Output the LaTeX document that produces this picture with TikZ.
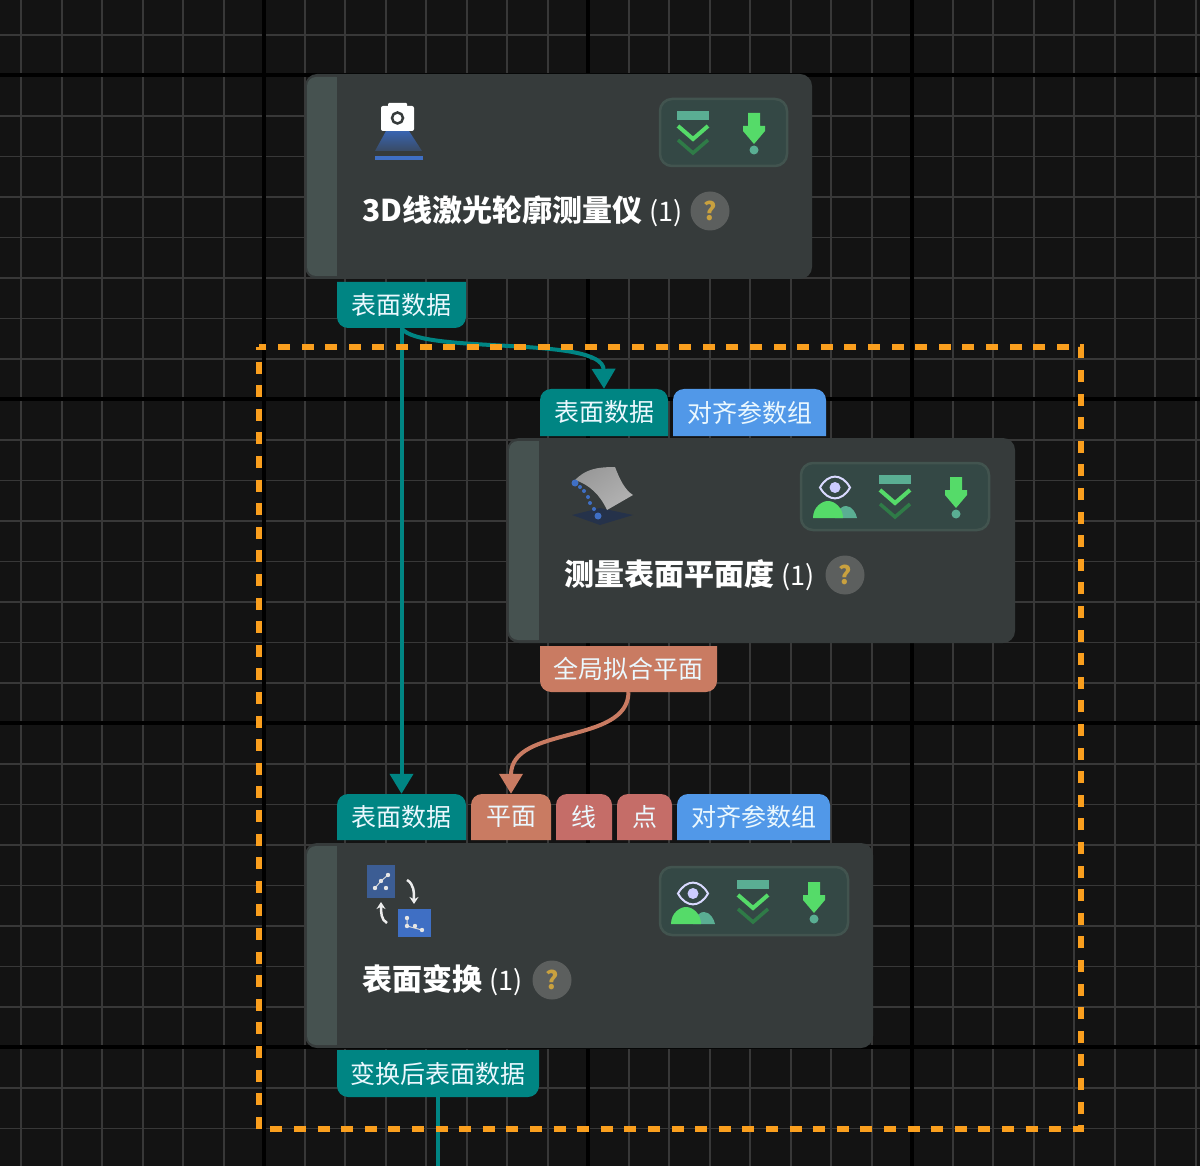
\documentclass[tikz,border=0pt]{standalone}
\usepackage{xcolor}
\usepackage{fontspec}
\usepackage{tikz}
\usetikzlibrary{arrows.meta}
\setmainfont{Noto Sans CJK SC}
\definecolor{canvasbg}{HTML}{131313}
\definecolor{gridgray}{HTML}{383838}
\definecolor{cardgray}{HTML}{363B3B}
\definecolor{cardbar}{HTML}{465250}
\definecolor{toolfill}{HTML}{344845}
\definecolor{tooledge}{HTML}{42544F}
\definecolor{portteal}{HTML}{008583}
\definecolor{portblue}{HTML}{5198E8}
\definecolor{portcoral}{HTML}{C97B62}
\definecolor{portrose}{HTML}{C56D68}
\definecolor{selorange}{HTML}{FA9F1E}
\definecolor{icongreen}{HTML}{55DB69}
\definecolor{iconteal}{HTML}{5AAE93}
\definecolor{icondark}{HTML}{2F7B47}
\definecolor{helpgray}{HTML}{5C5F5E}
\definecolor{helpgold}{HTML}{C9A13F}
\definecolor{iconblue}{HTML}{3F6FC4}
\definecolor{iconbase}{HTML}{25324A}
\tikzset{
  titletext/.style={anchor=west,inner sep=0pt,text=white,font=\fontsize{30}{32}\selectfont\bfseries},
  porttext/.style={inner sep=0pt,text=white!92!cyan,font=\fontsize{25}{28}\selectfont},
  helpdot/.style={circle,fill=helpgray,inner sep=0pt,minimum size=39pt,text=helpgold,font=\fontsize{25}{28}\selectfont\bfseries},
  wire/.style={line width=4pt,-{Triangle[length=20pt,width=23pt]}},
  cardbox/.style={fill=cardgray,rounded corners=12pt},
  toolbox/.style={fill=toolfill,draw=tooledge,line width=2.5pt,rounded corners=12pt},
}
% ports: name, x0, x1, y0, y1, colour, text
\newcommand{\portin}[7]{
  \fill[#6] (#2,#5) [rounded corners=11pt] -- (#2,#4) -- (#3,#4) [sharp corners] -- (#3,#5) -- cycle;
  \node[porttext,minimum width={(#3-#2)*1pt},minimum height={(#5-#4)*1pt}] (#1) at ({(#2+#3)/2},{(#4+#5)/2}) {#7};
}
\newcommand{\portout}[7]{
  \fill[#6] (#2,#4) [rounded corners=11pt] -- (#2,#5) -- (#3,#5) [sharp corners] -- (#3,#4) -- cycle;
  \node[porttext,minimum width={(#3-#2)*1pt},minimum height={(#5-#4)*1pt}] (#1) at ({(#2+#3)/2},{(#4+#5)/2}) {#7};
}
% card with its grey left bar: x0, x1, y0
\newcommand{\cardshape}[3]{
  \fill[cardbox] (#1,#3) rectangle (#2,#3+205);
  \fill[cardbar,rounded corners=9pt] (#1+2,#3+3) rectangle (#1+40,#3+202);
  \fill[cardgray] (#1+32,#3) rectangle (#1+44,#3+205);
}
% toolbar icons: centre x, top y
\newcommand{\iconchev}[2]{
  \begin{scope}[shift={(#1,#2)}]
    \fill[iconteal] (-16,0) rectangle (16,9);
    \draw[icondark,line width=3.5pt] (-15,29) -- (0,42) -- (15,29);
    \draw[icongreen,line width=4pt] (-15,15) -- (0,28) -- (15,15);
  \end{scope}
}
\newcommand{\icondrop}[2]{
  \begin{scope}[shift={(#1,#2)}]
    \fill[icongreen] (-6,0) -- (6,0) -- (6,13) -- (11,13) -- (11,18) -- (0,31) -- (-11,18) -- (-11,13) -- (-6,13) -- cycle;
    \fill[iconteal] (0,37) circle[radius=4.5];
  \end{scope}
}
\newcommand{\iconeye}[2]{
  \begin{scope}[shift={(#1,#2)}]
    \fill[iconteal] (0,43) .. controls (3,33) and (8,31) .. (11,31) .. controls (17,31) and (21,38) .. (22,43) -- cycle;
    \fill[icongreen] (-22,43) .. controls (-22,32) and (-13,26) .. (-7,26) .. controls (0,26) and (8,33) .. (8,43) -- cycle;
    \draw[white!85!blue,line width=2pt] (-15,12.5) .. controls (-7,-2) and (7,-2) .. (15,12.5) .. controls (7,27) and (-7,27) .. (-15,12.5) -- cycle;
    \fill[white!80!blue] (0,12.5) circle[radius=5.5];
  \end{scope}
}
\begin{document}
\begin{tikzpicture}[x=1pt,y=-1pt]
\useasboundingbox (0,0) rectangle (1200,1166);
\fill[canvasbg] (0,0) rectangle (1200,1166);
% grid
\foreach \i in {0,...,29} {
  \draw[gridgray,line width=2pt] ({21+40.5*\i},0) -- ({21+40.5*\i},1166);
  \draw[gridgray,line width=1.5pt] (0,{-5.5+40.5*\i}) -- (1200,{-5.5+40.5*\i});
}
\foreach \i in {264,588,912} \draw[black,line width=3.5pt] (\i,0) -- (\i,1166);
\foreach \i in {75,399,723,1047} \draw[black,line width=3.5pt] (0,\i) -- (1200,\i);
% cards
\cardshape{305}{812}{74}
\cardshape{507}{1015}{438}
\cardshape{305}{873}{843}
% ports
\portout{laserout}{337}{466}{282}{328}{portteal}{表面数据}
\portin{flatin}{540}{668}{389}{436}{portteal}{表面数据}
\portin{flatalign}{673}{826}{389}{436}{portblue}{对齐参数组}
\portout{flatout}{540}{717}{646}{692}{portcoral}{全局拟合平面}
\portin{transin}{337}{466}{794}{840}{portteal}{表面数据}
\portin{transplane}{471}{551}{794}{840}{portcoral}{平面}
\portin{transline}{556}{612}{794}{840}{portrose}{线}
\portin{transpoint}{617}{672}{794}{840}{portrose}{点}
\portin{transalign}{677}{830}{794}{840}{portblue}{对齐参数组}
\portout{transout}{337}{539}{1050}{1097}{portteal}{变换后表面数据}
\coordinate (bottomend) at (transout.south |- 0,1166);
% connectors
\draw[portteal,wire] (laserout.south) -- (transin.north);
\draw[portteal,wire] (laserout.south) .. controls (420,355) and (603,335) .. (flatin.north);
\draw[portcoral,wire] (flatout.south) .. controls (628,745) and (511,725) .. (transplane.north);
\draw[portteal,line width=4pt] (transout.south) -- (bottomend);
% toolbars
\draw[toolbox] (660,99) rectangle (787,166);
\draw[toolbox] (801,463) rectangle (989,530);
\draw[toolbox] (660,867) rectangle (848,935);
\iconchev{693}{111}
\icondrop{754}{113}
\iconeye{835}{475}
\iconchev{895}{475}
\icondrop{956}{477}
\iconeye{693}{881}
\iconchev{753}{880}
\icondrop{814}{882}
% camera icon
\shade[top color=iconblue!90!black,bottom color=iconblue!30!cardgray] (386,131) -- (409,131) -- (422,151) -- (375,151) -- cycle;
\fill[iconblue] (375,156) rectangle (423,160);
\fill[white,rounded corners=2pt] (381,106) rectangle (414,131);
\fill[white,rounded corners=1pt] (388,103) rectangle (407,108);
\draw[cardgray,line width=2.5pt] (397.5,118) circle[radius=5.5];
% surface icon
\fill[iconbase] (572,515) -- (600,508) -- (633,515) -- (600,525) -- cycle;
\shade[left color=gray!80!white,middle color=white!85!gray,right color=gray!60!white,shading angle=35] (575,480) .. controls (585,470) and (595,467) .. (615,467) .. controls (620,480) and (625,490) .. (633,495) -- (607,510) .. controls (600,495) and (590,485) .. (575,480) -- cycle;
\foreach \px/\py/\pr in {575/483/3.5,580/487/2,584/491/2,588/497/2,590/503/2,594/509/2,598/516/3.5}
  \fill[iconblue] (\px,\py) circle[radius=\pr];
% transform icon
\fill[iconblue!65!cardgray] (367,865) rectangle (395,898);
\fill[iconblue] (398,909) rectangle (431,937);
\draw[white!70!gray,line width=1pt] (375,888) -- (381,881) -- (388,875);
\draw[white!70!gray,line width=1pt] (407,918) -- (407,926) -- (422,930);
\foreach \px/\py in {375/888,381/881,388/875,386/888,407/918,407/926,415/926,422/930}
  \fill[white!80!gray] (\px,\py) circle[radius=2.2];
\draw[white!85!gray,line width=2.5pt,-{Stealth[length=7pt,width=9pt]}] (407,880) .. controls (414,884) and (414,892) .. (414,904);
\draw[white!85!gray,line width=2.5pt,-{Stealth[length=7pt,width=9pt]}] (387,923) .. controls (381,920) and (381,912) .. (381,902);
% titles
\node[titletext] (lasertitle) at (362,211) {3D线激光轮廓测量仪 {\mdseries\fontsize{27}{30}\selectfont (1)}};
\node[helpdot] (laserhelp) at (710,211) {?};
\node[titletext] (flattitle) at (564,575) {测量表面平面度 {\mdseries\fontsize{27}{30}\selectfont (1)}};
\node[helpdot] (flathelp) at (845,575) {?};
\node[titletext] (transtitle) at (362,980) {表面变换 {\mdseries\fontsize{27}{30}\selectfont (1)}};
\node[helpdot] (transhelp) at (552,980) {?};
% selection
\draw[selorange,line width=5.5pt,dash pattern=on 12pt off 11.6pt,dash phase=9pt] (259,347) rectangle (1081,1129);
\end{tikzpicture}
\end{document}
